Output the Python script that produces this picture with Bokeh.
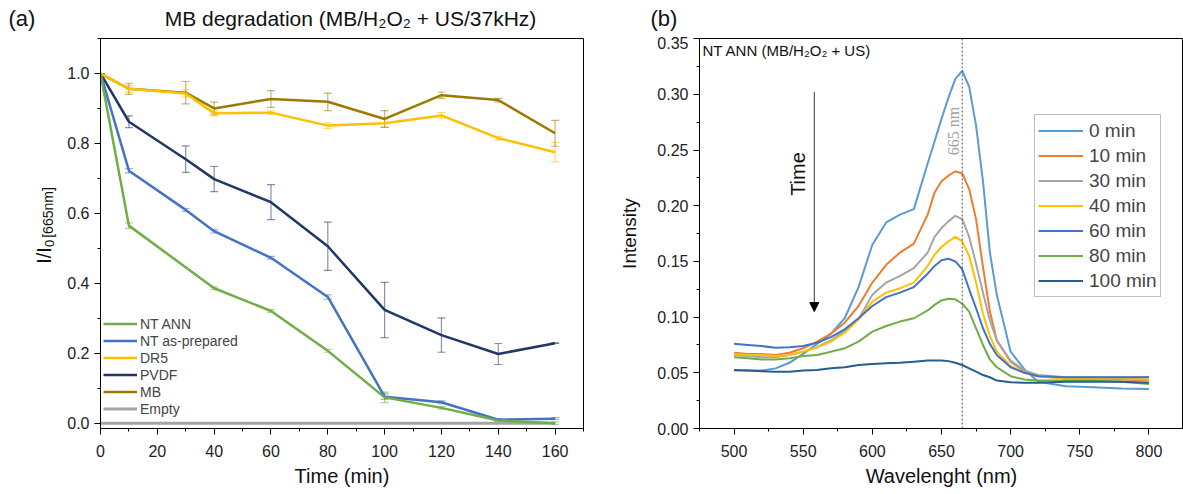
import numpy as np
from bokeh.plotting import figure
from bokeh.layouts import row, column
from bokeh.models import (Legend, LegendItem, Label, Span, Arrow, NormalHead, Whisker,
                          TeeHead, ColumnDataSource, SingleIntervalTicker,
                          NumeralTickFormatter, Range1d)
from bokeh.embed import file_html
from bokeh.resources import INLINE

FONT = "Liberation Sans"

# ---------------- Panel (a) data ----------------
time_ann = [0, 10, 40, 60, 80, 100, 120, 140, 160]
nt_ann = [1.0, 0.565, 0.386, 0.321, 0.207, 0.074, 0.044, 0.008, 0.0]
nt_ann_err = [0.0, 0.008, 0.004, 0.004, 0.004, 0.015, 0.004, 0.004, 0.004]

time = [0, 10, 30, 40, 60, 80, 100, 120, 140, 160]
nt_prep = [1.0, 0.722, 0.610, 0.549, 0.473, 0.361, 0.076, 0.060, 0.010, 0.013]
nt_prep_err = [0.0, 0.006, 0.004, 0.005, 0.004, 0.006, 0.008, 0.004, 0.003, 0.003]
dr5 = [1.0, 0.956, 0.943, 0.886, 0.888, 0.851, 0.858, 0.880, 0.815, 0.775]
dr5_err = [0.0, 0.010, 0.010, 0.007, 0.005, 0.008, 0.012, 0.008, 0.005, 0.028]
pvdf = [1.0, 0.862, 0.755, 0.698, 0.632, 0.506, 0.324, 0.252, 0.198, 0.229]
pvdf_err = [0.0, 0.017, 0.038, 0.036, 0.050, 0.069, 0.079, 0.049, 0.030, 0.0]
mb = [1.0, 0.956, 0.945, 0.900, 0.927, 0.919, 0.870, 0.938, 0.924, 0.829]
mb_err = [0.0, 0.016, 0.032, 0.018, 0.024, 0.025, 0.024, 0.009, 0.005, 0.037]
time_empty = [0, 160]
empty = [0.0, 0.0]

series_a = [
    ("NT ANN", time_ann, nt_ann, nt_ann_err, "#70AD47"),
    ("NT as-prepared", time, nt_prep, nt_prep_err, "#4472C4"),
    ("DR5", time, dr5, dr5_err, "#FFC000"),
    ("PVDF", time, pvdf, pvdf_err, "#1F3864"),
    ("MB", time, mb, mb_err, "#9C7A00"),
    ("Empty", time_empty, empty, [0.0, 0.0], "#A5A5A5"),
]

# ---------------- Panel (b) data ----------------
wavelength = [500, 510, 520, 530, 540, 550, 560, 570, 580, 590, 600, 610, 620, 630, 640,
              645, 650, 655, 660, 665, 670, 675, 680, 685, 690, 700, 710, 720, 740, 760,
              780, 800]
i_0 = [0.052, 0.052, 0.052, 0.054, 0.059, 0.067, 0.076, 0.085, 0.099, 0.127, 0.165, 0.185,
       0.192, 0.197, 0.238, 0.258, 0.278, 0.297, 0.314, 0.321, 0.307, 0.272, 0.222, 0.158,
       0.120, 0.069, 0.053, 0.042, 0.038, 0.037, 0.036, 0.0355]
i_10 = [0.068, 0.067, 0.067, 0.066, 0.068, 0.072, 0.078, 0.085, 0.095, 0.110, 0.131, 0.147,
        0.158, 0.166, 0.192, 0.212, 0.222, 0.227, 0.231, 0.229, 0.215, 0.188, 0.145, 0.105,
        0.079, 0.060, 0.051, 0.047, 0.045, 0.045, 0.044, 0.043]
i_30 = [0.066, 0.065, 0.064, 0.064, 0.066, 0.069, 0.073, 0.079, 0.088, 0.098, 0.120, 0.131,
        0.137, 0.144, 0.158, 0.172, 0.180, 0.186, 0.191, 0.188, 0.172, 0.148, 0.122, 0.097,
        0.079, 0.061, 0.052, 0.048, 0.046, 0.046, 0.046, 0.046]
i_40 = [0.067, 0.066, 0.066, 0.065, 0.066, 0.069, 0.073, 0.078, 0.086, 0.098, 0.114, 0.122,
        0.126, 0.131, 0.146, 0.156, 0.163, 0.168, 0.172, 0.168, 0.155, 0.131, 0.103, 0.083,
        0.069, 0.056, 0.050, 0.047, 0.045, 0.045, 0.045, 0.044]
i_60 = [0.076, 0.075, 0.074, 0.0725, 0.073, 0.074, 0.077, 0.082, 0.089, 0.099, 0.110, 0.118,
        0.122, 0.127, 0.139, 0.146, 0.151, 0.1525, 0.150, 0.143, 0.125, 0.108, 0.090, 0.076,
        0.066, 0.055, 0.050, 0.047, 0.046, 0.046, 0.046, 0.046]
i_80 = [0.064, 0.063, 0.062, 0.062, 0.063, 0.065, 0.066, 0.069, 0.072, 0.078, 0.087, 0.092,
        0.096, 0.099, 0.106, 0.111, 0.115, 0.1165, 0.116, 0.112, 0.105, 0.090, 0.075, 0.062,
        0.055, 0.047, 0.044, 0.043, 0.043, 0.043, 0.042, 0.040]
i_100 = [0.0525, 0.052, 0.0515, 0.051, 0.051, 0.052, 0.0525, 0.054, 0.055, 0.057, 0.058,
         0.0585, 0.059, 0.060, 0.061, 0.061, 0.061, 0.0605, 0.059, 0.057, 0.054, 0.051, 0.048,
         0.046, 0.043, 0.0415, 0.041, 0.041, 0.042, 0.042, 0.042, 0.041]

series_b = [
    ("0 min", i_0, "#5B9BD5"),
    ("10 min", i_10, "#ED7D31"),
    ("30 min", i_30, "#A5A5A5"),
    ("40 min", i_40, "#FFC000"),
    ("60 min", i_60, "#4472C4"),
    ("80 min", i_80, "#70AD47"),
    ("100 min", i_100, "#255E91"),
]

TOP_H = 36
BODY_H = 494 - TOP_H
FRAME_BOTTOM_A = 428  # canvas y of the bottom of panel (a)'s plot area


def style_axes(p, tick_size="16px"):
    for ax in (p.xaxis[0], p.yaxis[0]):
        ax.major_tick_in = 0
        ax.major_tick_out = 6
        ax.minor_tick_in = 0
        ax.minor_tick_out = 3
        ax.axis_line_color = "black"
        ax.major_tick_line_color = "black"
        ax.minor_tick_line_color = "black"
        ax.major_label_text_font = FONT
        ax.major_label_text_font_size = tick_size
        ax.major_label_text_color = "#222222"
        ax.axis_label_text_font = FONT
        ax.axis_label_text_font_style = "normal"
        ax.axis_label_text_color = "#111111"
    p.xgrid.visible = False
    p.ygrid.visible = False
    p.outline_line_color = "black"
    p.outline_line_width = 1


def text_strip(width, height):
    s = figure(width=width, height=height, output_backend="svg", toolbar_location=None,
               x_range=Range1d(0, width), y_range=Range1d(0, height),
               min_border=0, min_border_left=0, min_border_right=0,
               min_border_top=0, min_border_bottom=0)
    s.axis.visible = False
    s.xgrid.visible = False
    s.ygrid.visible = False
    s.outline_line_color = None
    return s


# ---------------- top strip: panel letters and title ----------------
top = text_strip(1183, TOP_H)
top.add_layout(Label(x=8, y=TOP_H - 18, x_units="screen", y_units="screen", text="(a)",
                     text_font=FONT, text_font_size="22px", text_baseline="middle",
                     text_align="left", text_color="#111111"))
top.add_layout(Label(x=350, y=TOP_H - 18, x_units="screen", y_units="screen",
                     text="MB degradation (MB/H\u2082O\u2082 + US/37kHz)",
                     text_font=FONT, text_font_size="21px", text_baseline="middle",
                     text_align="center", text_color="#111111"))
top.add_layout(Label(x=650, y=TOP_H - 18, x_units="screen", y_units="screen", text="(b)",
                     text_font=FONT, text_font_size="22px", text_baseline="middle",
                     text_align="left", text_color="#111111"))

# ---------------- left strip: y label of (a) ----------------
YL_W = 60
ylab = text_strip(YL_W, BODY_H)
ylab.add_layout(Label(x=43, y=FRAME_BOTTOM_A - 255, x_units="screen", y_units="screen",
                      text="I/I", angle=np.pi / 2, text_font=FONT, text_font_size="20px",
                      text_baseline="middle", text_align="center", text_color="#111111"))
ylab.add_layout(Label(x=49, y=FRAME_BOTTOM_A - 243, x_units="screen", y_units="screen",
                      text="0", angle=np.pi / 2, text_font=FONT, text_font_size="13px",
                      text_baseline="middle", text_align="center", text_color="#111111"))
ylab.add_layout(Label(x=47, y=FRAME_BOTTOM_A - 212, x_units="screen", y_units="screen",
                      text="[665nm]", angle=np.pi / 2, text_font=FONT, text_font_size="14px",
                      text_baseline="middle", text_align="center", text_color="#111111"))

# ---------------- Figure (a) ----------------
pa = figure(width=600 - YL_W, height=BODY_H, output_backend="svg", toolbar_location=None,
            x_range=Range1d(0, 170), y_range=Range1d(-0.015, 1.1),
            min_border_left=100 - YL_W, min_border_right=17, min_border_top=2,
            min_border_bottom=66)
style_axes(pa)
pa.xaxis.ticker = SingleIntervalTicker(interval=20, num_minor_ticks=2)
pa.yaxis.ticker = SingleIntervalTicker(interval=0.2, num_minor_ticks=2)
pa.yaxis.formatter = NumeralTickFormatter(format="0.0")
pa.xaxis.axis_label = "Time (min)"
pa.xaxis.axis_label_text_font_size = "20px"
pa.xaxis.major_label_standoff = 10
pa.xaxis.axis_label_standoff = 5

items_a = []
for name, t, v, e, col in series_a:
    if name != "Empty":
        src = ColumnDataSource(dict(x=t, upper=[a + b for a, b in zip(v, e)],
                                    lower=[a - b for a, b in zip(v, e)]))
        w = Whisker(base="x", upper="upper", lower="lower", source=src,
                    line_color=col, line_alpha=0.55, line_width=1.2,
                    upper_head=TeeHead(size=8, line_color=col, line_alpha=0.55, line_width=1.2),
                    lower_head=TeeHead(size=8, line_color=col, line_alpha=0.55, line_width=1.2))
        pa.add_layout(w)
for name, t, v, e, col in reversed(series_a):
    lw = 3 if name == "Empty" else 2.5
    r = pa.line(t, v, line_color=col, line_width=lw)
    items_a.insert(0, LegendItem(label=name, renderers=[r]))

leg_a = Legend(items=items_a, location=(3, 11), padding=0, spacing=0, margin=0,
               label_height=17, glyph_height=17, glyph_width=34, label_standoff=3,
               label_text_font=FONT, label_text_font_size="14px",
               border_line_color=None, background_fill_alpha=0)
pa.add_layout(leg_a)

# ---------------- Figure (b) ----------------
pb = figure(width=583, height=BODY_H, output_backend="svg", toolbar_location=None,
            x_range=Range1d(475, 825), y_range=Range1d(0, 0.3502),
            min_border_left=99, min_border_right=0, min_border_top=2,
            min_border_bottom=66)
style_axes(pb)
pb.xaxis.ticker = SingleIntervalTicker(interval=50, num_minor_ticks=2)
pb.yaxis.ticker = SingleIntervalTicker(interval=0.05, num_minor_ticks=2)
pb.yaxis.formatter = NumeralTickFormatter(format="0.00")
pb.xaxis.axis_label = "Wavelenght (nm)"
pb.yaxis.axis_label = "Intensity"
pb.xaxis.axis_label_text_font_size = "20px"
pb.yaxis.axis_label_text_font_size = "19px"
pb.xaxis.major_label_standoff = 10
pb.xaxis.axis_label_standoff = 5
pb.yaxis.major_label_standoff = 5
pb.yaxis.axis_label_standoff = 14

pb.add_layout(Span(location=665, dimension="height", line_color="#555555",
                   line_dash="2 2", line_width=1))

items_b = []
for name, v, col in series_b:
    r = pb.line(wavelength, v, line_color=col, line_width=2)
    items_b.append(LegendItem(label=name, renderers=[r]))

leg_b = Legend(items=items_b, location=(335, 131), padding=3, spacing=0, margin=0,
               label_height=25, glyph_height=25, glyph_width=45, label_standoff=6,
               label_text_font=FONT, label_text_font_size="19px",
               border_line_color="#7F7F7F", border_line_width=1.5,
               background_fill_color="white", background_fill_alpha=1)
pb.add_layout(leg_b)

pb.add_layout(Arrow(x_start=558, y_start=0.302, x_end=558, y_end=0.105,
                    line_color="#333333", line_width=1,
                    end=NormalHead(size=9, fill_color="black", line_color="black")))
pb.add_layout(Label(x=98.5, y=254.5, x_units="screen", y_units="screen", text="Time",
                    angle=np.pi / 2, text_font=FONT, text_font_size="20px",
                    text_baseline="middle", text_align="center", text_color="#111111"))
pb.add_layout(Label(x=254, y=297.5, x_units="screen", y_units="screen", text="665 nm",
                    angle=np.pi / 2, text_font="Liberation Serif", text_font_size="16px",
                    text_baseline="middle", text_align="center", text_color="#A0A0A0"))
pb.add_layout(Label(x=3, y=378.5, x_units="screen", y_units="screen",
                    text="NT ANN (MB/H\u2082O\u2082 + US)",
                    text_font=FONT, text_font_size="15px", text_baseline="middle",
                    text_align="left", text_color="#111111"))

layout = column(top, row(ylab, pa, pb), spacing=0)
open("out.html", "w").write(file_html(layout, INLINE))
